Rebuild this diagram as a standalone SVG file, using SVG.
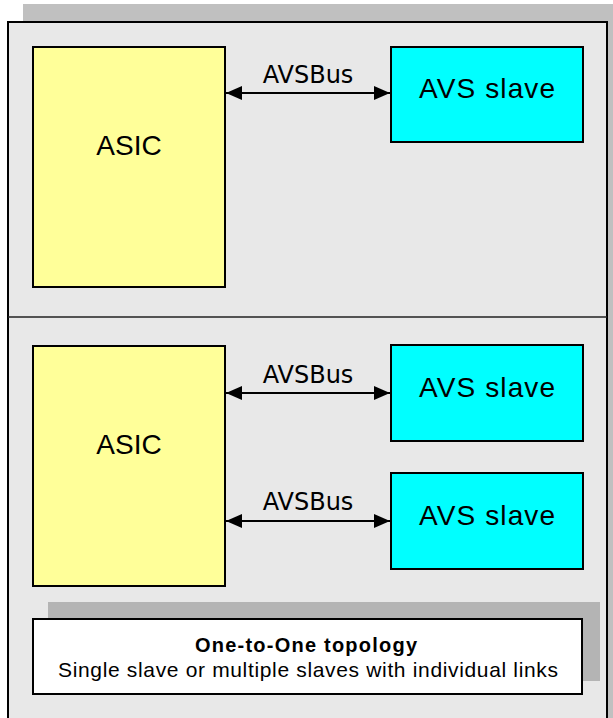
<svg xmlns="http://www.w3.org/2000/svg" width="613" height="718" viewBox="0 0 613 718">
  <style>
    .asic { fill: #FFFF99; stroke: #000; stroke-width: 2; }
    .slave { fill: #00FFFF; stroke: #000; stroke-width: 2; }
    .lbl { font-family: "Liberation Sans", Arial, sans-serif; font-size: 28px; fill: #000; text-anchor: middle; }
    .bus { font-family: "DejaVu Sans", Verdana, sans-serif; font-size: 24px; fill: #000; text-anchor: middle; }
    .link { stroke: #000; stroke-width: 2; fill: none; marker-start: url(#ah); marker-end: url(#ah); }
  </style>
  <defs>
    <marker id="ah" markerUnits="userSpaceOnUse" markerWidth="16" markerHeight="14" refX="16" refY="7" orient="auto-start-reverse">
      <path d="M0,0 L16,7 L0,14 z" fill="#000"/>
    </marker>
  </defs>

  <g id="frame">
    <rect x="23" y="4" width="600" height="730" fill="#C0C0C0"/>
    <rect x="8" y="22" width="599" height="712" fill="#E8E8E8" stroke="#000" stroke-width="2"/>
    <line x1="8" y1="317" x2="607" y2="317" stroke="#222" stroke-width="1.5"/>
  </g>

  <g id="asic1">
    <rect class="asic" x="33" y="47" width="192" height="240"/>
    <text class="lbl" x="129" y="155">ASIC</text>
  </g>
  <g id="slave1">
    <rect class="slave" x="391" y="47" width="192" height="95"/>
    <text class="lbl" x="487" y="98" textLength="136" lengthAdjust="spacing">AVS slave</text>
  </g>

  <g id="asic2">
    <rect class="asic" x="33" y="346" width="192" height="240"/>
    <text class="lbl" x="129" y="454">ASIC</text>
  </g>
  <g id="slave2">
    <rect class="slave" x="391" y="345" width="192" height="96"/>
    <text class="lbl" x="487" y="397" textLength="136" lengthAdjust="spacing">AVS slave</text>
  </g>
  <g id="slave3">
    <rect class="slave" x="391" y="473" width="192" height="96"/>
    <text class="lbl" x="487" y="525" textLength="136" lengthAdjust="spacing">AVS slave</text>
  </g>

  <g id="connectors">
    <line class="link" x1="226" y1="93" x2="390" y2="93"/>
    <text class="bus" x="308" y="83">AVSBus</text>
    <line class="link" x1="226" y1="393" x2="390" y2="393"/>
    <text class="bus" x="308" y="383">AVSBus</text>
    <line class="link" x1="226" y1="521" x2="390" y2="521"/>
    <text class="bus" x="308" y="510">AVSBus</text>
  </g>

  <g id="legend">
    <rect x="48" y="602" width="552" height="79" fill="#B4B4B4"/>
    <rect x="33" y="619" width="549" height="75" fill="#FFFFFF" stroke="#000" stroke-width="2"/>
    <text x="306" y="652" font-family="'Liberation Sans', Arial, sans-serif" font-size="20" font-weight="bold" text-anchor="middle" textLength="222" lengthAdjust="spacing">One-to-One topology</text>
    <text x="308" y="677" font-family="'Liberation Sans', Arial, sans-serif" font-size="21" text-anchor="middle" textLength="500" lengthAdjust="spacing">Single slave or multiple slaves with individual links</text>
  </g>
</svg>
